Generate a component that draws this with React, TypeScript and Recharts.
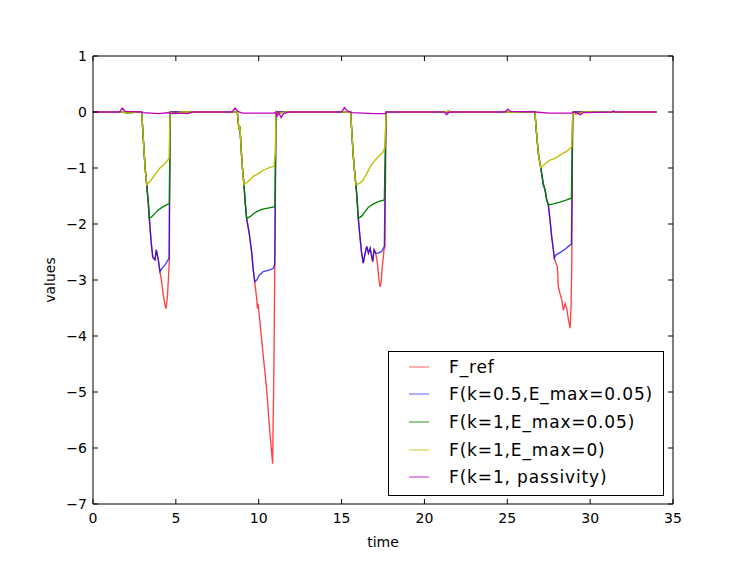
import React from 'react';
import { LineChart, Line, XAxis, YAxis, ReferenceLine } from 'recharts';

const FONT = '"DejaVu Sans", sans-serif';

const xTicks = [0, 5, 10, 15, 20, 25, 30, 35];
const yTicks = [1, 0, -1, -2, -3, -4, -5, -6, -7];

// F_ref
const refT = [0,
  2.94, 3.04, 3.14, 3.24, 3.34, 3.40, 3.50, 3.60, 3.64, 3.74, 3.82, 3.94, 4.04, 4.14, 4.24, 4.35, 4.41, 4.49, 4.57, 4.61, 4.65,
  8.71, 8.77, 8.81, 8.87, 8.91, 8.97, 9.03, 9.11, 9.19, 9.27, 9.43, 9.58, 9.67, 9.76, 9.84, 9.88, 9.92, 9.96, 10.08, 10.24, 10.48, 10.68, 10.84, 10.92, 10.97, 11.04,
  15.55, 15.61, 15.71, 15.81, 15.87, 15.95, 16.01, 16.11, 16.21, 16.31, 16.42, 16.52, 16.62, 16.72, 16.82, 16.88, 16.96, 17.06, 17.16, 17.26, 17.32, 17.38, 17.46, 17.56, 17.62, 17.68,
  26.67, 26.73, 26.82, 26.90, 27.02, 27.10, 27.18, 27.28, 27.38, 27.48, 27.58, 27.68, 27.78, 27.84, 27.94, 28.02, 28.08, 28.18, 28.29, 28.38, 28.49, 28.59, 28.69, 28.79, 28.85, 28.89, 28.95,
  34];
const refV = [0,
  0, -0.5, -0.98, -1.30, -1.63, -1.90, -2.29, -2.58, -2.61, -2.64, -2.46, -2.64, -2.85, -3.03, -3.27, -3.45, -3.51, -3.30, -2.88, -2.61, 0,
  0, -0.20, -0.32, -0.26, -0.5, -0.80, -1.04, -1.30, -1.63, -1.90, -2.17, -2.52, -2.82, -3.03, -3.24, -3.33, -3.51, -3.42, -3.77, -4.25, -4.96, -5.74, -6.28, -4.5, -2.72, 0,
  0, -0.32, -0.80, -1.15, -1.30, -1.63, -1.90, -2.23, -2.52, -2.70, -2.52, -2.40, -2.52, -2.43, -2.58, -2.67, -2.46, -2.52, -2.70, -3.0, -3.12, -3.06, -2.76, -2.46, -2.40, 0,
  0, -0.26, -0.56, -0.80, -0.99, -1.15, -1.30, -1.39, -1.57, -1.66, -1.93, -2.23, -2.46, -2.61, -2.70, -2.76, -3.12, -3.24, -3.36, -3.54, -3.42, -3.51, -3.71, -3.86, -3.48, -2.75, 0,
  0];

// F(k=0.5,E_max=0.05)
const blueT = [0,
  2.94, 3.04, 3.14, 3.24, 3.34, 3.40, 3.50, 3.60, 3.64, 3.74, 3.82, 3.94, 4.04, 4.14, 4.35, 4.59, 4.65,
  8.71, 8.77, 8.81, 8.87, 8.91, 8.97, 9.03, 9.11, 9.19, 9.27, 9.43, 9.58, 9.67, 9.76, 9.88, 10.04, 10.28, 10.68, 10.88, 10.97, 11.04,
  15.55, 15.61, 15.71, 15.81, 15.87, 15.95, 16.01, 16.11, 16.21, 16.31, 16.42, 16.52, 16.62, 16.72, 16.82, 16.88, 16.96, 17.06, 17.22, 17.42, 17.58, 17.68,
  26.67, 26.73, 26.82, 26.90, 27.02, 27.10, 27.18, 27.28, 27.38, 27.48, 27.58, 27.68, 27.78, 27.84, 27.94, 28.18, 28.49, 28.69, 28.87, 28.95,
  34];
const blueV = [0,
  0, -0.5, -0.98, -1.30, -1.63, -1.90, -2.29, -2.58, -2.61, -2.64, -2.46, -2.64, -2.85, -2.80, -2.73, -2.61, 0,
  0, -0.20, -0.32, -0.26, -0.5, -0.80, -1.04, -1.30, -1.63, -1.90, -2.17, -2.52, -2.82, -3.03, -3.0, -2.91, -2.85, -2.82, -2.79, -2.72, 0,
  0, -0.32, -0.80, -1.15, -1.30, -1.63, -1.90, -2.23, -2.52, -2.70, -2.52, -2.40, -2.52, -2.43, -2.58, -2.67, -2.46, -2.52, -2.52, -2.49, -2.40, 0,
  0, -0.26, -0.56, -0.80, -0.99, -1.15, -1.30, -1.39, -1.57, -1.66, -1.93, -2.23, -2.46, -2.61, -2.55, -2.51, -2.45, -2.40, -2.36, 0,
  0];

// F(k=1,E_max=0.05)
const greenT = [0, 1.85, 2.0, 2.4, 2.6,
  2.94, 3.04, 3.14, 3.24, 3.34, 3.40, 3.54, 3.74, 3.94, 4.24, 4.61, 4.65, 4.75, 5.0, 5.3,
  8.71, 8.77, 8.81, 8.87, 8.91, 8.97, 9.03, 9.11, 9.19, 9.27, 9.48, 9.67, 9.88, 10.18, 10.48, 10.98, 11.04, 11.12, 11.4, 11.6,
  15.55, 15.61, 15.71, 15.81, 15.87, 15.95, 16.01, 16.21, 16.42, 16.62, 16.92, 17.22, 17.58, 17.68,
  21.25, 21.45, 21.65,
  26.67, 26.73, 26.82, 26.90, 27.02, 27.10, 27.18, 27.28, 27.38, 27.48, 27.78, 28.18, 28.59, 28.87, 28.95, 29.1, 29.4, 29.6,
  34];
const greenV = [0, 0, -0.02, -0.01, 0,
  0, -0.5, -0.98, -1.30, -1.63, -1.90, -1.87, -1.81, -1.75, -1.69, -1.63, 0, -0.02, -0.03, 0,
  0, -0.20, -0.32, -0.26, -0.5, -0.80, -1.04, -1.30, -1.63, -1.90, -1.87, -1.82, -1.78, -1.74, -1.72, -1.69, 0, -0.03, -0.01, 0,
  0, -0.32, -0.80, -1.15, -1.30, -1.63, -1.90, -1.86, -1.78, -1.70, -1.64, -1.60, -1.57, 0,
  0, 0.015, 0,
  0, -0.26, -0.56, -0.80, -0.99, -1.15, -1.30, -1.39, -1.57, -1.66, -1.64, -1.61, -1.57, -1.54, 0, -0.03, -0.02, 0,
  0];

// F(k=1,E_max=0)
const yellowT = [0, 1.85, 2.0, 2.4, 2.6,
  2.94, 3.04, 3.14, 3.24, 3.44, 3.74, 4.04, 4.35, 4.59, 4.65, 4.75, 5.0, 5.3,
  8.71, 8.77, 8.81, 8.87, 8.91, 8.97, 9.03, 9.11, 9.37, 9.67, 9.98, 10.28, 10.68, 10.92, 11.0, 11.04, 11.12, 11.4, 11.6,
  15.55, 15.61, 15.71, 15.81, 15.87, 16.11, 16.31, 16.52, 16.72, 17.02, 17.22, 17.52, 17.62, 17.68,
  21.25, 21.45, 21.65,
  26.67, 26.73, 26.82, 26.90, 27.02, 27.18, 27.58, 27.88, 28.18, 28.59, 28.89, 28.95, 29.1, 29.4, 29.6,
  34];
const yellowV = [0, 0, -0.02, -0.01, 0,
  0, -0.5, -0.98, -1.30, -1.24, -1.12, -1.0, -0.92, -0.83, 0, -0.02, -0.03, 0,
  0, -0.20, -0.32, -0.26, -0.5, -0.80, -1.04, -1.30, -1.24, -1.15, -1.10, -1.04, -0.99, -0.97, -0.75, 0, -0.03, -0.01, 0,
  0, -0.32, -0.80, -1.15, -1.30, -1.27, -1.21, -1.10, -0.98, -0.86, -0.80, -0.71, -0.62, 0,
  0, 0.015, 0,
  0, -0.26, -0.56, -0.80, -0.99, -0.95, -0.86, -0.83, -0.77, -0.70, -0.62, 0, -0.03, -0.02, 0,
  0];

// F(k=1, passivity)
const magT = [0, 1.6, 1.77, 1.95, 2.9, 3.0, 4.0, 4.6, 4.7, 4.8, 5.1, 5.7, 6.0,
  8.4, 8.57, 8.75, 9.0, 10.9, 11.04, 11.1, 11.2, 11.35, 11.5, 11.8,
  15.0, 15.17, 15.35, 15.6, 17.0, 17.65, 17.7,
  21.2, 21.34, 21.5,
  24.85, 25.03, 25.2, 26.7, 27.5, 28.9, 29.0, 29.2, 29.4, 29.6,
  31.3, 31.4, 31.5, 34];
const magV = [0, 0, 0.07, 0.01, 0, -0.01, -0.03, -0.01, -0.03, -0.03, -0.02, -0.03, 0,
  0, 0.07, 0.01, -0.02, -0.02, -0.01, -0.08, -0.01, -0.1, -0.03, 0,
  0, 0.08, 0.02, -0.01, -0.03, -0.03, 0,
  0, -0.05, 0,
  0, 0.05, 0.01, 0, -0.02, -0.02, 0, -0.02, -0.05, -0.01,
  0, 0.02, 0, 0];

const zip = (ts: number[], vs: number[]) => ts.map((t, i) => ({ t, v: vs[i] }));

const series = [
  { name: 'F_ref', data: zip(refT, refV), color: '#ff0000', opacity: 0.75 },
  { name: 'F(k=0.5,E_max=0.05)', data: zip(blueT, blueV), color: '#0000ff', opacity: 0.75 },
  { name: 'F(k=1,E_max=0.05)', data: zip(greenT, greenV), color: '#008000', opacity: 1 },
  { name: 'F(k=1,E_max=0)', data: zip(yellowT, yellowV), color: '#bfbf00', opacity: 1 },
  { name: 'F(k=1, passivity)', data: zip(magT, magV), color: '#bf00bf', opacity: 1 },
];

// plot frame (pixels)
const PL = 93;
const PR = 673;
const PT = 56;
const PB = 504;
const TICK = 5;

const fmt = (v: number) => (v < 0 ? '\u2212' + Math.abs(v) : String(v));

const BottomTick = (p: any) => (
  <g>
    <line x1={p.x} x2={p.x} y1={PB} y2={PB - TICK} stroke="#000" strokeWidth={1} />
    <line x1={p.x} x2={p.x} y1={PT} y2={PT + TICK} stroke="#000" strokeWidth={1} />
    <text x={p.x} y={PB + 19} textAnchor="middle" fontFamily={FONT} fontSize={14} fill="#000">
      {fmt(p.payload.value)}
    </text>
  </g>
);
const LeftTick = (p: any) => (
  <g>
    <line x1={PL} x2={PL + TICK} y1={p.y} y2={p.y} stroke="#000" strokeWidth={1} />
    <line x1={PR} x2={PR - TICK} y1={p.y} y2={p.y} stroke="#000" strokeWidth={1} />
    <text x={PL - 6} y={p.y + 5} textAnchor="end" fontFamily={FONT} fontSize={14} fill="#000">
      {fmt(p.payload.value)}
    </text>
  </g>
);

export default function App() {
  return (
    <div style={{ position: 'absolute', left: 0, top: 0, width: 747, height: 561, background: '#fff' }}>
      <LineChart width={747} height={561} margin={{ top: PT, right: 747 - PR, bottom: 561 - PB - 30, left: PL - 40 }}>
        <XAxis
          dataKey="t"
          type="number"
          domain={[0, 35]}
          ticks={xTicks}
          interval={0}
          allowDataOverflow
          height={30}
          tickSize={0}
          tickMargin={0}
          tickLine={false}
          axisLine={{ stroke: '#000', strokeWidth: 1 }}
          tick={(p: any) => <BottomTick {...p} />}
          label={{
            content: () => (
              <text x={383} y={547} textAnchor="middle" fontFamily={FONT} fontSize={14} fill="#000">time</text>
            ),
          }}
        />
        <YAxis
          type="number"
          domain={[-7, 1]}
          ticks={yTicks}
          interval={0}
          allowDataOverflow
          width={40}
          tickSize={0}
          tickMargin={0}
          tickLine={false}
          axisLine={{ stroke: '#000', strokeWidth: 1 }}
          tick={(p: any) => <LeftTick {...p} />}
          label={{
            content: () => (
              <text x={55} y={280} transform="rotate(-90, 55, 280)" textAnchor="middle" fontFamily={FONT} fontSize={14} fill="#000">values</text>
            ),
          }}
        />
        <ReferenceLine y={1} stroke="#000" strokeWidth={1} />
        <ReferenceLine x={35} stroke="#000" strokeWidth={1} />
        {series.map((s) => (
          <Line
            key={s.name}
            data={s.data}
            dataKey="v"
            name={s.name}
            type="linear"
            stroke={s.color}
            strokeOpacity={s.opacity}
            strokeWidth={1.35}
            dot={false}
            activeDot={false}
            isAnimationActive={false}
          />
        ))}
      </LineChart>
      <div
        style={{
          position: 'absolute',
          left: 388,
          top: 351,
          width: 276,
          height: 145,
          boxSizing: 'border-box',
          border: '1px solid #000',
          background: '#fff',
          fontFamily: FONT,
          fontSize: 17,
          letterSpacing: '0.85px',
          color: '#000',
        }}
      >
        {series.map((s, i) => (
          <div
            key={s.name}
            style={{
              position: 'absolute',
              left: 0,
              top: 15.5 + i * 27.7 - 11,
              height: 20,
              width: '100%',
            }}
          >
            <svg width={20} height={4} style={{ position: 'absolute', left: 20, top: 8 }}>
              <line x1={0} x2={20} y1={2} y2={2} stroke={s.color} strokeOpacity={s.opacity * 0.65} strokeWidth={1.3} />
            </svg>
            <span style={{ position: 'absolute', left: 60, top: 0, whiteSpace: 'nowrap', lineHeight: '20px' }}>{s.name}</span>
          </div>
        ))}
      </div>
    </div>
  );
}
